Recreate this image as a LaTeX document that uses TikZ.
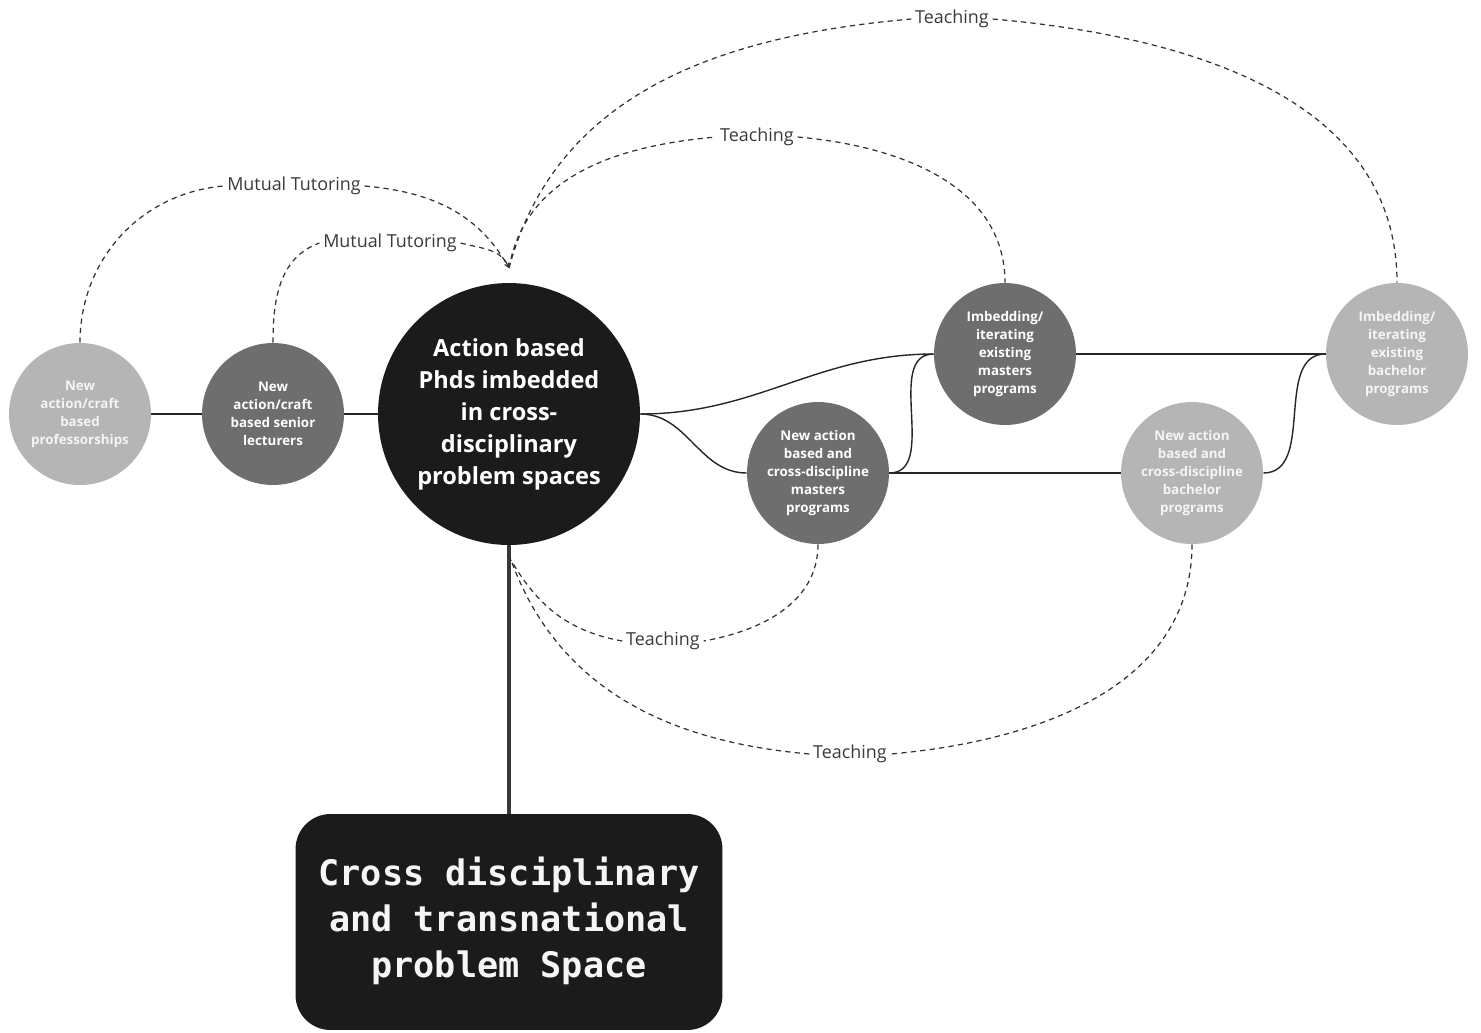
\documentclass[tikz,border=0pt]{standalone}
\usepackage{fontspec}
\setmainfont{Open Sans}
\newfontfamily\boxfont{DejaVu Sans Mono}
\usetikzlibrary{arrows.meta}

\definecolor{cLight}{HTML}{B5B5B5}
\definecolor{cDark}{HTML}{6E6E6E}
\definecolor{cBlack}{HTML}{1B1B1B}
\definecolor{cLabel}{HTML}{3A3A3A}

\tikzset{
	disc/.style={circle, minimum size=2.84cm, inner sep=0pt, align=center, text=white, font=\bfseries\fontsize{7.6}{10.3}\selectfont},
	lightdisc/.style={disc, fill=cLight, text=white!96!black},
	darkdisc/.style={disc, fill=cDark},
	maindisc/.style={disc, fill=cBlack, minimum size=5.24cm, font=\bfseries\fontsize{13.4}{18.2}\selectfont},
	problembox/.style={fill=cBlack, rounded corners=0.7cm, minimum width=8.54cm, minimum height=4.32cm, align=center, text=white!96!black, font=\boxfont\bfseries\fontsize{20}{26.3}\selectfont},
	linklabel/.style={fill=white, inner sep=2pt, text=cLabel, font=\fontsize{10.2}{12}\selectfont},
	link/.style={draw=black!85, line width=0.8pt},
	dashlink/.style={draw=black!80, line width=0.7pt, dash pattern=on 3pt off 2.4pt},
}

\begin{document}
\begin{tikzpicture}[x=0.02cm,y=-0.02cm]
	\useasboundingbox (0,0) rectangle (1481,1032);
	%circles
		\node[lightdisc] (prof) at (80,414) {New\\action/craft\\based\\professorships};
		\node[darkdisc] (lect) at (273,414) {New\\action/craft\\based senior\\lecturers};
		\node[maindisc] (main) at (509,414) {Action based\\Phds imbedded\\in cross-\\disciplinary\\problem spaces};
		\node[darkdisc] (imm) at (1005,354) {Imbedding/\\iterating\\existing\\masters\\programs};
		\node[darkdisc] (nm) at (818,473) {New action\\based and\\cross-discipline\\masters\\programs};
		\node[lightdisc] (nb) at (1192,473) {New action\\based and\\cross-discipline\\bachelor\\programs};
		\node[lightdisc] (ib) at (1397,354) {Imbedding/\\iterating\\existing\\bachelor\\programs};
	%problem space
		\node[problembox] (space) at (509,922) {\raisebox{-3pt}{\begin{tabular}{@{}c@{}}Cross disciplinary\\and transnational\\problem Space\end{tabular}}};
		\draw[line width=2.3pt, draw=black!78] (main.south) -- (space.north);
	%solid links
		\draw[link] (prof) -- (lect);
		\draw[link] (lect) -- (main);
		\draw[link] (main.east) to[out=0,in=180] (imm.west);
		\draw[link] (main.east) to[out=0,in=180] (nm.west);
		\draw[link] (nm.east) to[out=0,in=180] (imm.west);
		\draw[link] (nm.east) -- (nb.west);
		\draw[link] (imm.east) -- (ib.west);
		\draw[link] (nb.east) to[out=0,in=180] (ib.west);
	%meeting points of the dashed links
		\coordinate (top) at (509,268);
		\coordinate (bot) at (511,560);
	%labels
		\node[linklabel] (mt1) at (294,186) {Mutual Tutoring};
		\node[linklabel] (mt2) at (390,243) {Mutual Tutoring};
		\node[linklabel] (t1) at (757,137) {Teaching};
		\node[linklabel] (t2) at (952,19) {Teaching};
		\node[linklabel] (t3) at (663,641) {Teaching};
		\node[linklabel] (t4) at (850,754) {Teaching};
	%mutual tutoring
		\draw[dashlink, -{Stealth[length=3pt,width=3pt]}] (prof.north) to[out=90,in=185] (mt1.west) (mt1.east) to[out=-5,in=120] (top);
		\draw[dashlink, -{Stealth[length=3pt,width=3pt]}] (lect.north) to[out=90,in=200] (mt2.west) (mt2.east) to[out=-15,in=115] (top);
	%teaching, upper
		\draw[dashlink] (top) to[out=80,in=185] (t1.west) (t1.east) to[out=-5,in=90] (imm.north);
		\draw[dashlink] (top) to[out=75,in=185] (t2.west) (t2.east) to[out=-5,in=90] (ib.north);
	%teaching, lower
		\draw[dashlink] (nm.south) to[out=-90,in=10] (t3.east) (t3.west) to[out=170,in=-60] (bot);
		\draw[dashlink] (nb.south) to[out=-90,in=5] (t4.east) (t4.west) to[out=175,in=-70] (bot);
\end{tikzpicture}
\end{document}
